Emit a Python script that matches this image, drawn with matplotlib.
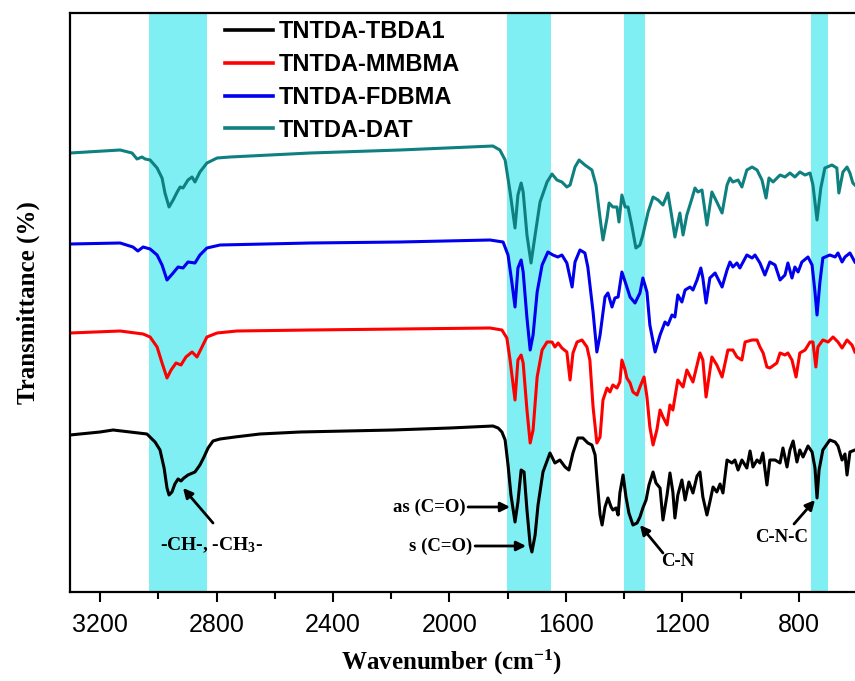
import matplotlib
matplotlib.use('Agg')
import matplotlib.pyplot as plt

# stacked FTIR spectra, wavenumber (cm-1) vs transmittance (arb. units, offset)
wn_tbda1 = [3303, 3200, 3155, 3097, 3039, 3011, 2994, 2980, 2970, 2963, 2953, 2943, 2932, 2922, 2912,
            2898, 2874, 2857, 2843, 2829, 2812, 2788, 2737, 2651, 2513, 2194, 1998, 1851, 1833, 1820,
            1809, 1799, 1789, 1775, 1765, 1754, 1744, 1734, 1723, 1717, 1706, 1696, 1679, 1655, 1638,
            1621, 1603, 1590, 1576, 1559, 1542, 1525, 1511, 1500, 1494, 1483, 1476, 1466, 1456, 1445,
            1439, 1428, 1421, 1415, 1404, 1394, 1384, 1370, 1356, 1346, 1336, 1325, 1315, 1301, 1291,
            1277, 1267, 1253, 1243, 1233, 1226, 1216, 1202, 1191, 1178, 1164, 1150, 1140, 1130, 1116,
            1106, 1095, 1082, 1071, 1061, 1047, 1030, 1020, 1009, 996, 979, 968, 958, 944, 934, 924,
            910, 900, 882, 865, 855, 841, 831, 820, 807, 797, 786, 769, 755, 745, 738, 731, 718, 694,
            676, 666, 652, 642, 635, 625, 608]
t_tbda1 = [157, 160, 162, 160, 158, 150, 142, 124, 104, 97, 100, 108, 113, 111, 114,
           117, 120, 127, 135, 144, 151, 153, 155, 158, 160, 162, 164, 166, 164, 160,
           152, 127, 97, 70, 90, 122, 120, 82, 47, 40, 57, 87, 120, 139, 129,
           132, 125, 122, 139, 154, 154, 149, 147, 137, 115, 77, 67, 85, 94, 85,
           82, 84, 77, 99, 117, 95, 79, 67, 69, 75, 84, 92, 107, 120, 109,
           104, 72, 97, 119, 100, 74, 97, 112, 92, 110, 99, 116, 120, 95, 77,
           90, 105, 100, 108, 99, 132, 129, 132, 122, 132, 124, 141, 125, 132, 129, 139,
           107, 132, 132, 129, 144, 125, 142, 151, 130, 142, 135, 146, 140, 124, 94, 122, 142, 152,
           150, 146, 132, 138, 117, 140, 142]

wn_mmbma = [3303, 3131, 3052, 3028, 3004, 2987, 2970, 2956, 2939, 2922, 2905, 2884, 2867, 2850, 2833,
            2798, 2730, 2479, 2170, 1861, 1820, 1803, 1792, 1775, 1765, 1754, 1747, 1734, 1723, 1713,
            1699, 1682, 1665, 1648, 1638, 1627, 1614, 1597, 1586, 1576, 1562, 1545, 1528, 1518, 1507,
            1494, 1483, 1473, 1459, 1449, 1439, 1425, 1415, 1408, 1397, 1391, 1380, 1370, 1356, 1346,
            1332, 1322, 1312, 1301, 1288, 1277, 1267, 1253, 1243, 1233, 1216, 1198, 1185, 1164, 1140,
            1130, 1119, 1099, 1082, 1064, 1044, 1027, 1013, 996, 985, 961, 944, 934, 923, 910,
            900, 876, 865, 848, 838, 824, 810, 797, 779, 762, 752, 742, 735, 718, 700,
            683, 666, 652, 635, 618, 608]
t_mmbma = [259, 261, 258, 255, 245, 229, 214, 222, 229, 227, 235, 240, 235, 245, 255,
           259, 261, 262, 263, 264, 262, 254, 232, 192, 232, 237, 229, 182, 149, 162,
           215, 242, 250, 250, 245, 249, 244, 240, 212, 239, 250, 252, 245, 232, 185,
           149, 155, 192, 204, 200, 207, 204, 210, 232, 222, 214, 209, 200, 197, 205,
           215, 195, 165, 147, 162, 182, 175, 167, 187, 182, 212, 205, 222, 210, 239,
           232, 195, 235, 227, 215, 242, 242, 235, 232, 250, 252, 252, 245, 239, 225,
           224, 229, 239, 237, 239, 232, 215, 239, 242, 250, 250, 225, 245, 252, 250,
           255, 250, 244, 252, 247, 240]

wn_fdbma = [3303, 3131, 3087, 3070, 3052, 3028, 3004, 2987, 2970, 2949, 2932, 2915, 2898, 2874, 2857,
            2833, 2788, 2479, 2170, 1861, 1816, 1799, 1786, 1775, 1765, 1754, 1747, 1734, 1723, 1713,
            1699, 1682, 1662, 1645, 1628, 1614, 1597, 1579, 1569, 1552, 1535, 1525, 1507, 1494, 1483,
            1466, 1456, 1442, 1432, 1421, 1408, 1391, 1380, 1363, 1346, 1336, 1322, 1312, 1294, 1277,
            1260, 1250, 1236, 1226, 1216, 1202, 1191, 1174, 1164, 1150, 1137, 1130, 1119, 1106, 1088,
            1064, 1047, 1037, 1027, 1013, 1003, 979, 961, 951, 934, 917, 900, 882, 865, 848,
            838, 824, 814, 803, 790, 769, 755, 745, 738, 728, 718, 694, 676, 666, 652,
            642, 625, 608]
t_fdbma = [348, 349, 345, 341, 345, 343, 337, 327, 312, 319, 325, 324, 330, 329, 337,
           344, 347, 349, 350, 352, 350, 337, 310, 285, 324, 332, 320, 274, 242, 257,
           300, 327, 340, 337, 335, 337, 329, 305, 330, 342, 339, 325, 280, 240, 257,
           295, 299, 285, 294, 295, 320, 305, 295, 289, 299, 314, 300, 267, 240, 257,
           270, 267, 277, 275, 297, 290, 302, 305, 302, 312, 324, 314, 289, 314, 319,
           305, 322, 330, 325, 329, 324, 337, 334, 337, 329, 317, 330, 327, 312, 317,
           329, 314, 325, 320, 330, 335, 327, 300, 277, 310, 334, 337, 335, 339, 330,
           335, 339, 330]

wn_dat = [3303, 3131, 3090, 3073, 3056, 3045, 3028, 3004, 2987, 2977, 2963, 2949, 2935, 2925, 2915,
          2898, 2884, 2874, 2857, 2833, 2798, 2754, 2479, 2170, 1851, 1827, 1809, 1792, 1775, 1765,
          1754, 1747, 1734, 1720, 1706, 1689, 1665, 1648, 1631, 1614, 1597, 1586, 1569, 1555, 1535,
          1511, 1497, 1483, 1473, 1459, 1452, 1439, 1425, 1418, 1408, 1397, 1387, 1373, 1360, 1346,
          1336, 1318, 1301, 1284, 1267, 1250, 1236, 1226, 1209, 1198, 1185, 1167, 1157, 1147, 1133,
          1116, 1099, 1082, 1064, 1047, 1037, 1027, 1009, 996, 979, 961, 944, 927, 913, 903,
          889, 865, 848, 831, 814, 797, 779, 762, 752, 738, 725, 711, 687, 670, 663,
          649, 635, 625, 615, 608]
t_dat = [439, 442, 439, 433, 435, 433, 432, 424, 414, 399, 385, 392, 400, 405, 404,
         412, 415, 410, 420, 429, 434, 435, 439, 442, 446, 442, 432, 400, 364, 397,
         409, 400, 357, 329, 357, 390, 410, 418, 412, 410, 405, 407, 425, 432, 427,
         422, 407, 374, 352, 374, 389, 385, 385, 370, 397, 385, 385, 365, 344, 347,
         357, 380, 395, 392, 387, 399, 374, 355, 379, 357, 377, 394, 404, 400, 402,
         367, 400, 390, 379, 407, 414, 410, 412, 405, 422, 425, 422, 412, 394, 414,
         410, 417, 415, 419, 415, 420, 417, 419, 407, 372, 404, 424, 427, 424, 399,
         420, 425, 419, 409, 407]

labels = ['TNTDA-TBDA1', 'TNTDA-MMBMA', 'TNTDA-FDBMA', 'TNTDA-DAT']
colors = ['black', '#ff0000', '#0000ee', '#0f8080']

# highlighted absorption regions (cm-1)
bands = [(3032, 2833), (1802, 1652), (1401, 1330), (757, 700)]
xticks = [3200, 2800, 2400, 2000, 1600, 1200, 800]
minor_ticks = [3000, 2600, 2200, 1800, 1400, 1000, 600]

plt.rcParams['mathtext.fontset'] = 'custom'
plt.rcParams['mathtext.rm'] = 'Liberation Serif:bold'
plt.rcParams['mathtext.it'] = 'Liberation Serif:bold'
plt.rcParams['mathtext.bf'] = 'Liberation Serif:bold'

fig = plt.figure(figsize=(8.55, 6.81), dpi=100)
ax = fig.add_axes([0.0819, 0.1307, 0.9275, 0.8502])

for lo, hi in bands:
    ax.axvspan(lo, hi, color='#80eff4', lw=0, zorder=0)

series = [(wn_tbda1, t_tbda1), (wn_mmbma, t_mmbma), (wn_fdbma, t_fdbma), (wn_dat, t_dat)]
for (w, t), lab, c in zip(series, labels, colors):
    ax.plot(w, t, color=c, lw=2.2, label=lab, solid_joinstyle='round')

ax.set_xlim(3303, 580)
ax.set_ylim(0, 579)
ax.set_xticks(xticks)
ax.set_xticks(minor_ticks, minor=True)
ax.set_yticks([])
ax.tick_params(axis='x', which='major', direction='out', length=7, width=1.5,
               labelsize=18, pad=8)
ax.tick_params(axis='x', which='minor', direction='out', length=5, width=1.5)
for lab in ax.get_xticklabels():
    lab.set_fontfamily('Liberation Sans')
for s in ax.spines.values():
    s.set_linewidth(1.6)

leg = ax.legend(loc='upper left', bbox_to_anchor=(0.196, 0.988), frameon=False,
                prop={'family': 'Liberation Sans', 'weight': 'bold', 'size': 17},
                handlelength=2.0, handletextpad=0.25, labelspacing=0.42,
                borderpad=0, borderaxespad=0)
for line in leg.get_lines():
    line.set_linewidth(2.6)

serif = {'family': 'Liberation Serif', 'weight': 'bold'}
arrow = dict(arrowstyle='-|>', color='black', lw=2, mutation_scale=14, shrinkA=0, shrinkB=0)

ax.annotate('', xy=(2915, 104), xytext=(2812, 69), arrowprops=arrow)
ax.text(2818, 47, '-CH-, -CH$_3$-', ha='center', va='center', fontsize=14, **serif)

ax.annotate('', xy=(1792, 85), xytext=(1936, 85), arrowprops=arrow)
ax.text(1946, 85, 'as (C=O)', ha='right', va='center', fontsize=13.5, **serif)

ax.annotate('', xy=(1737, 46), xytext=(1912, 46), arrowprops=arrow)
ax.text(1922, 46, 's (C=O)', ha='right', va='center', fontsize=13.5, **serif)

ax.annotate('', xy=(1346, 67), xytext=(1267, 39), arrowprops=arrow)
ax.text(1216, 30, 'C-N', ha='center', va='center', fontsize=13.5, **serif)

ax.annotate('', xy=(745, 92), xytext=(817, 68), arrowprops=arrow)
ax.text(860, 54, 'C-N-C', ha='center', va='center', fontsize=13.5, **serif)

fig.text(452 / 855, 1 - 662 / 681, 'Wavenumber (cm$^{-1}$)', ha='center', va='center',
         fontsize=18, **serif)
fig.text(28 / 855, 1 - 303 / 681, 'Transmittance (%)', ha='center', va='center',
         rotation=90, fontsize=18, **serif)

fig.savefig('out.png', dpi=100)
